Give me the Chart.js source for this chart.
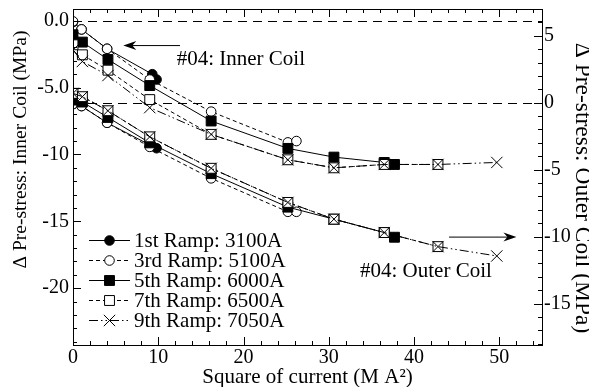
<!DOCTYPE html>
<html>
<head>
<meta charset="utf-8">
<script src="https://cdn.jsdelivr.net/npm/chart.js@4.4.1/dist/chart.umd.min.js"></script>
<style>
  html, body { margin: 0; padding: 0; background: #fff; }
  #wrap { width: 589px; height: 387px; }
</style>
</head>
<body>
<div id="wrap"><canvas id="chart" width="589" height="387"></canvas></div>
<script>
const SERIF = '"Liberation Serif", "Times New Roman", serif';

// ramps (legend order)
const rampLabels = ["1st Ramp: 3100A", "3rd Ramp: 5100A", "5th Ramp: 6000A", "7th Ramp: 6500A", "9th Ramp: 7050A"];

// square of current (M A^2) for each ramp
const x1st = [0, 1, 4, 9.3, 9.8];
const x3rd = [0, 1, 4, 9, 16.2, 25.2, 26.2];
const x5th = [0, 1.1, 4.1, 9, 16.2, 25.2, 30.6, 36.5, 37.7];
const x7th = [0, 1.1, 4.1, 9, 16.2, 25.2, 30.6, 36.5, 42.8];
const x9th = [0, 1.1, 4.1, 9, 16.2, 25.2, 30.6, 36.5, 42.8, 49.7];

// inner coil, left axis (MPa)
const inner1st = [-0.1, -0.65, -2.1, -4.0, -4.4];
const inner3rd = [-0.05, -0.65, -2.1, -4.4, -6.8, -9.1, -9.0];
const inner5th = [-1.05, -1.6, -2.9, -4.85, -7.5, -9.55, -10.2, -10.6, -10.75];
const inner7th = [-1.8, -2.55, -3.7, -5.9, -8.5, -10.4, -11.0, -10.75, -10.75];
const inner9th = [-2.2, -3.05, -4.1, -6.5, -8.5, -10.4, -11.0, -10.75, -10.75, -10.6];

// outer coil, right axis (MPa)
const outer1st = [-0.1, -0.25, -1.5, -3.25, -3.4];
const outer3rd = [-0.1, -0.25, -1.5, -3.3, -5.65, -8.15, -8.15];
const outer5th = [0.2, 0.05, -1.1, -3.0, -5.3, -7.8, -8.7, -9.7, -10.05];
const outer7th = [0.7, 0.45, -0.6, -2.55, -4.9, -7.45, -8.7, -9.7, -10.75];
const outer9th = [0.7, 0.45, -0.6, -2.55, -4.9, -7.45, -8.7, -9.7, -10.75, -11.45];

// ticks
const xTicks = [0, 10, 20, 30, 40, 50];
const leftTicks = [0, -5, -10, -15, -20];
const leftTickLabels = ["0.0", "-5.0", "-10", "-15", "-20"];
const rightTicks = [5, 0, -5, -10, -15];
const rightTickLabels = ["5", "0", "-5", "-10", "-15"];

const xTitle = "Square of current (M A\u00B2)";
const leftTitle = "\u0394 Pre-stress: Inner Coil (MPa)";
const rightTitle = "\u0394 Pre-stress: Outer Coil (MPa)";
const innerNote = "#04: Inner Coil";
const outerNote = "#04: Outer Coil";

const RAMP_STYLE = [
  { pointStyle: "circle", fill: "#000", dash: [], radius: 4.8, order: 5 },
  { pointStyle: "circle", fill: "#fff", dash: [4, 3], radius: 4.8, order: 4 },
  { pointStyle: "rect", fill: "#000", dash: [], radius: 7, order: 3 },
  { pointStyle: "rect", fill: "#fff", dash: [4, 3], radius: 7, order: 2 },
  { pointStyle: "crossRot", fill: "#fff", dash: [9, 3, 1.5, 3, 1.5, 3], radius: 8, order: 1 }
];

const rampX = [x1st, x3rd, x5th, x7th, x9th];
const rampInner = [inner1st, inner3rd, inner5th, inner7th, inner9th];
const rampOuter = [outer1st, outer3rd, outer5th, outer7th, outer9th];

function pts(xs, ys) {
  return xs.map((x, i) => ({ x, y: ys[i] }));
}

function dataset(i, ys, axis) {
  const st = RAMP_STYLE[i];
  return {
    label: rampLabels[i],
    data: pts(rampX[i], ys),
    yAxisID: axis,
    showLine: true,
    borderColor: "#000",
    borderWidth: 1,
    borderDash: st.dash,
    pointStyle: st.pointStyle,
    pointRadius: st.radius,
    pointBackgroundColor: st.fill,
    pointBorderColor: "#000",
    pointBorderWidth: 1,
    order: st.order
  };
}

const datasets = [];
rampLabels.forEach((_, i) => {
  datasets.push(dataset(i, rampInner[i], "y"));
  datasets.push(dataset(i, rampOuter[i], "y2"));
});

function fixedBox(size, vertical) {
  return (scale) => {
    if (vertical) scale.width = size; else scale.height = size;
    scale.paddingTop = 0;
    scale.paddingBottom = 0;
    scale.paddingLeft = 0;
    scale.paddingRight = 0;
  };
}

function drawMarker(ctx, st, x, y) {
  ctx.save();
  ctx.setLineDash([]);
  ctx.lineWidth = 1;
  ctx.strokeStyle = "#000";
  ctx.fillStyle = st.fill;
  ctx.beginPath();
  if (st.pointStyle === "circle") {
    ctx.arc(x, y, st.radius, 0, Math.PI * 2);
    ctx.fill();
    ctx.stroke();
  } else if (st.pointStyle === "rect") {
    const s = st.radius * Math.SQRT1_2;
    ctx.rect(x - s, y - s, 2 * s, 2 * s);
    ctx.fill();
    ctx.stroke();
  } else {
    const d = st.radius * Math.SQRT1_2;
    ctx.moveTo(x - d, y - d);
    ctx.lineTo(x + d, y + d);
    ctx.moveTo(x - d, y + d);
    ctx.lineTo(x + d, y - d);
    ctx.stroke();
  }
  ctx.restore();
}

function arrow(ctx, x1, y1, x2, y2) {
  const a = Math.atan2(y2 - y1, x2 - x1);
  ctx.save();
  ctx.setLineDash([]);
  ctx.strokeStyle = "#000";
  ctx.fillStyle = "#000";
  ctx.lineWidth = 1;
  ctx.beginPath();
  ctx.moveTo(x1, y1);
  ctx.lineTo(x2 - 4 * Math.cos(a), y2 - 4 * Math.sin(a));
  ctx.stroke();
  ctx.translate(x2, y2);
  ctx.rotate(a);
  ctx.beginPath();
  ctx.moveTo(0, 0);
  ctx.lineTo(-13, -4.5);
  ctx.lineTo(-9, 0);
  ctx.lineTo(-13, 4.5);
  ctx.closePath();
  ctx.fill();
  ctx.restore();
}

const overlay = {
  id: "overlay",
  beforeDatasetsDraw(chart) {
    const { ctx, chartArea: a, scales } = chart;
    ctx.save();
    ctx.strokeStyle = "#000";
    ctx.lineWidth = 1;
    ctx.setLineDash([9, 6]);
    [scales.y.getPixelForValue(0), scales.y2.getPixelForValue(0)].forEach((py) => {
      ctx.beginPath();
      ctx.moveTo(a.left, Math.round(py) + 0.5);
      ctx.lineTo(a.right, Math.round(py) + 0.5);
      ctx.stroke();
    });
    ctx.restore();
  },
  afterDatasetsDraw(chart) {
    const { ctx, chartArea: a, scales } = chart;
    ctx.save();
    ctx.strokeStyle = "#000";
    ctx.lineWidth = 1;
    ctx.setLineDash([]);
    ctx.strokeRect(Math.round(a.left) + 0.5, Math.round(a.top) + 0.5,
      Math.round(a.right - a.left), Math.round(a.bottom - a.top));
    ctx.beginPath();
    for (let v = 0; v <= 55; v += 2) {
      const px = Math.round(scales.x.getPixelForValue(v)) + 0.5;
      const len = v % 10 === 0 ? 8 : 4;
      ctx.moveTo(px, a.bottom); ctx.lineTo(px, a.bottom - len);
      ctx.moveTo(px, a.top); ctx.lineTo(px, a.top + len);
    }
    for (let v = -24; v <= 0; v += 1) {
      const py = Math.round(scales.y.getPixelForValue(v)) + 0.5;
      const len = v % 5 === 0 ? 8 : 4;
      ctx.moveTo(a.left, py); ctx.lineTo(a.left + len, py);
    }
    for (let v = -18; v <= 7; v += 1) {
      const py = Math.round(scales.y2.getPixelForValue(v)) + 0.5;
      const len = v % 5 === 0 ? 8 : 4;
      ctx.moveTo(a.right, py); ctx.lineTo(a.right - len, py);
    }
    ctx.stroke();
    ctx.restore();
  },
  afterDraw(chart) {
    const { ctx, chartArea: a, scales } = chart;
    const sx = (v) => scales.x.getPixelForValue(v);
    const sy = (v) => scales.y.getPixelForValue(v);
    const sy2 = (v) => scales.y2.getPixelForValue(v);

    // annotations
    arrow(ctx, sx(12.55), sy(-1.86), sx(5.9), sy(-1.86));
    arrow(ctx, sx(44.1), sy2(-10.04), sx(52.0), sy2(-10.04));
    ctx.save();
    ctx.fillStyle = "#000";
    ctx.font = "21px " + SERIF;
    ctx.textAlign = "left";
    ctx.textBaseline = "middle";
    ctx.fillText(innerNote, sx(12.16), sy(-2.93));
    ctx.fillText(outerNote, sx(33.66), sy2(-12.6));

    // legend
    rampLabels.forEach((label, i) => {
      const y = 240 + 20 * i;
      const st = RAMP_STYLE[i];
      ctx.save();
      ctx.strokeStyle = "#000";
      ctx.lineWidth = 1;
      ctx.setLineDash(st.dash);
      ctx.beginPath();
      ctx.moveTo(89, y + 0.5);
      ctx.lineTo(130, y + 0.5);
      ctx.stroke();
      ctx.restore();
      drawMarker(ctx, st, 109.5, y + 0.5);
      ctx.fillText(label, 134, y + 1);
    });

    // axis titles
    ctx.textAlign = "center";
    ctx.textBaseline = "alphabetic";
    ctx.fillText(xTitle, (a.left + a.right) / 2, 383);

    ctx.save();
    ctx.font = "19.5px " + SERIF;
    ctx.translate(26, 149.5);
    ctx.rotate(-Math.PI / 2);
    ctx.fillText(leftTitle, 0, 0);
    ctx.restore();

    ctx.save();
    ctx.font = "23.5px " + SERIF;
    ctx.translate(576, 188);
    ctx.rotate(Math.PI / 2);
    ctx.fillText(rightTitle, 0, 0);
    ctx.restore();
    ctx.restore();
  }
};

const tickFont = { family: SERIF, size: 20 };

new Chart(document.getElementById("chart"), {
  type: "scatter",
  data: { datasets },
  plugins: [overlay],
  options: {
    responsive: false,
    animation: false,
    events: [],
    layout: { padding: { top: 9, left: 0, right: 0, bottom: 0 } },
    plugins: {
      legend: { display: false },
      tooltip: { enabled: false }
    },
    scales: {
      x: {
        type: "linear",
        min: 0,
        max: 55,
        afterBuildTicks: (s) => { s.ticks = xTicks.map((v) => ({ value: v })); },
        afterFit: fixedBox(42, false),
        grid: { display: false, drawTicks: false },
        border: { display: false },
        ticks: { color: "#000", font: tickFont, padding: 1, autoSkip: false, maxRotation: 0 }
      },
      y: {
        type: "linear",
        position: "left",
        min: -24.25,
        max: 0.875,
        afterBuildTicks: (s) => { s.ticks = leftTicks.map((v) => ({ value: v })); },
        afterFit: fixedBox(73, true),
        grid: { display: false, drawTicks: false },
        border: { display: false },
        ticks: {
          color: "#000", font: tickFont, padding: 4, autoSkip: false,
          callback: (v) => leftTickLabels[leftTicks.indexOf(v)]
        }
      },
      y2: {
        type: "linear",
        position: "right",
        min: -18.1,
        max: 7.0,
        afterBuildTicks: (s) => { s.ticks = rightTicks.map((v) => ({ value: v })); },
        afterFit: fixedBox(47, true),
        grid: { display: false, drawTicks: false },
        border: { display: false },
        ticks: {
          color: "#000", font: tickFont, padding: 2, autoSkip: false,
          callback: (v) => rightTickLabels[rightTicks.indexOf(v)]
        }
      }
    }
  }
});
</script>
</body>
</html>
